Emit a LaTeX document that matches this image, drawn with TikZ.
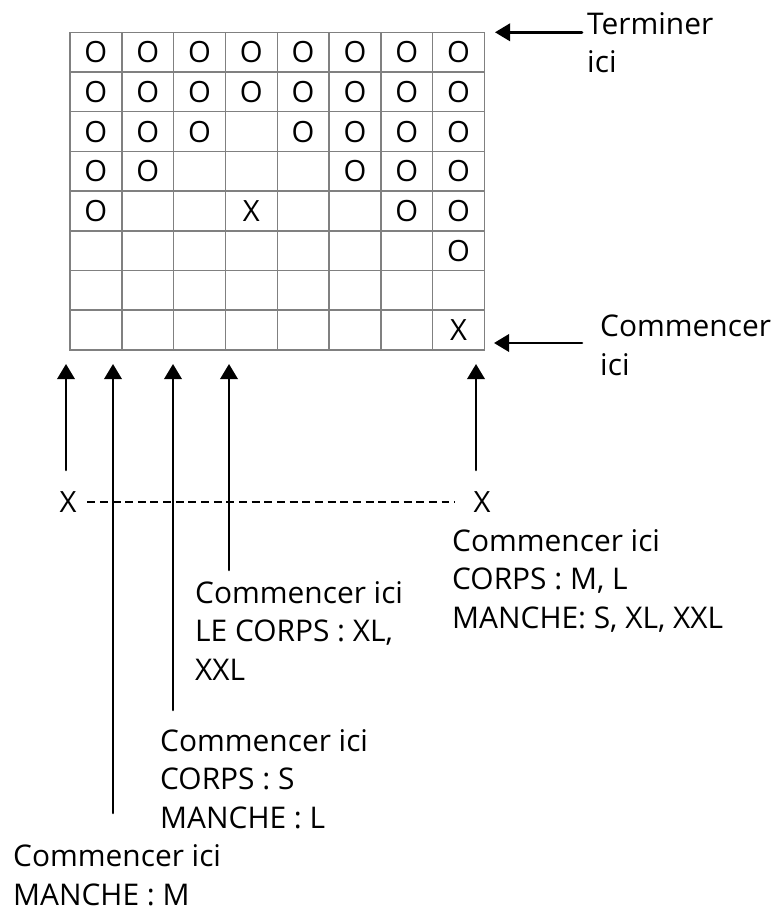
\documentclass[tikz,border=0pt]{standalone}
\usepackage{fontspec}
\setmainfont{Open Sans}
\usepackage{tikz,tkz-euclide}
\usetikzlibrary{arrows.meta}

\tikzset{
  fleche/.style={line width=2.2pt,-{Triangle[length=13pt,width=15pt]}},
  lab/.style={anchor=base west,inner sep=0pt,align=left,
    font=\fontsize{25.5}{32.7}\selectfont},
  marque/.style={inner sep=0pt,font=\fontsize{25}{28}\selectfont},
  grille/.style={gray,line width=1.2pt,line cap=rect},
}

\begin{document}
\begin{tikzpicture}[x=.3mm,y=-.3mm]
			\useasboundingbox (0,0) rectangle (780,911);
			\def\cw{51.8}\def\ch{39.7}
			% la grille
			\foreach \i in {0,...,8}{
				\draw[grille] (70+\i*\cw,32.3) -- (70+\i*\cw,350);
				\draw[grille] (70,32.3+\i*\ch) -- (484.4,32.3+\i*\ch);
			}
			\foreach \ro/\cols in {1/{1,...,8},2/{1,...,8},3/{1,2,3,5,6,7,8},
			                       4/{1,2,6,7,8},5/{1,7,8},6/{8}}
				\foreach \co in \cols
					\node[marque] (o\ro\co) at (70+\co*\cw-\cw/2,32.3+\ro*\ch-\ch/2) {O};
			\node[marque] (x54) at (70+3.5*\cw,32.3+4.5*\ch) {X};
			\node[marque] (x88) at (70+7.5*\cw,32.3+7.5*\ch) {X};

			\tkzDefPoint(582,32.3){T1}
			\tkzDefPoint(495,32.3){T2}
			\tkzDefPoint(582,343){C1}
			\tkzDefPoint(494,343){C2}
			\tkzDefPoint(66,470){A1}
			\tkzDefPoint(66,364){A2}
			\tkzDefPoint(113,813){B1}
			\tkzDefPoint(113,364){B2}
			\tkzDefPoint(173,710){D1}
			\tkzDefPoint(173,364){D2}
			\tkzDefPoint(229,570){E1}
			\tkzDefPoint(229,364){E2}
			\tkzDefPoint(476,470){F1}
			\tkzDefPoint(476,364){F2}
			\tkzDrawSegments[fleche](T1,T2 C1,C2 A1,A2 B1,B2 D1,D2 E1,E2 F1,F2)

			\node[marque] (xg) at (68,502) {X};
			\node[marque] (xd) at (482,502) {X};
			\draw[line width=1.2pt,dash pattern=on 6.8pt off 4pt,
			      shorten <=9pt,shorten >=16pt] (xg.east) -- (xd.west);

			% les textes (ancre sur la derniere ligne)
			\node[lab] (lTerm) at (587,73) {Terminer\\ici};
			\node[lab] (lCom) at (600,375) {Commencer\\ici};
			\node[lab] (lML) at (452,628) {Commencer ici\\CORPS : M, L\\MANCHE: S, XL, XXL};
			\node[lab] (lXL) at (195,680) {Commencer ici\\LE CORPS : XL,\\XXL};
			\node[lab] (lS) at (160,828) {Commencer ici\\CORPS : S\\MANCHE : L};
			\node[lab] (lM) at (13,905) {Commencer ici\\MANCHE : M};
\end{tikzpicture}
\end{document}
